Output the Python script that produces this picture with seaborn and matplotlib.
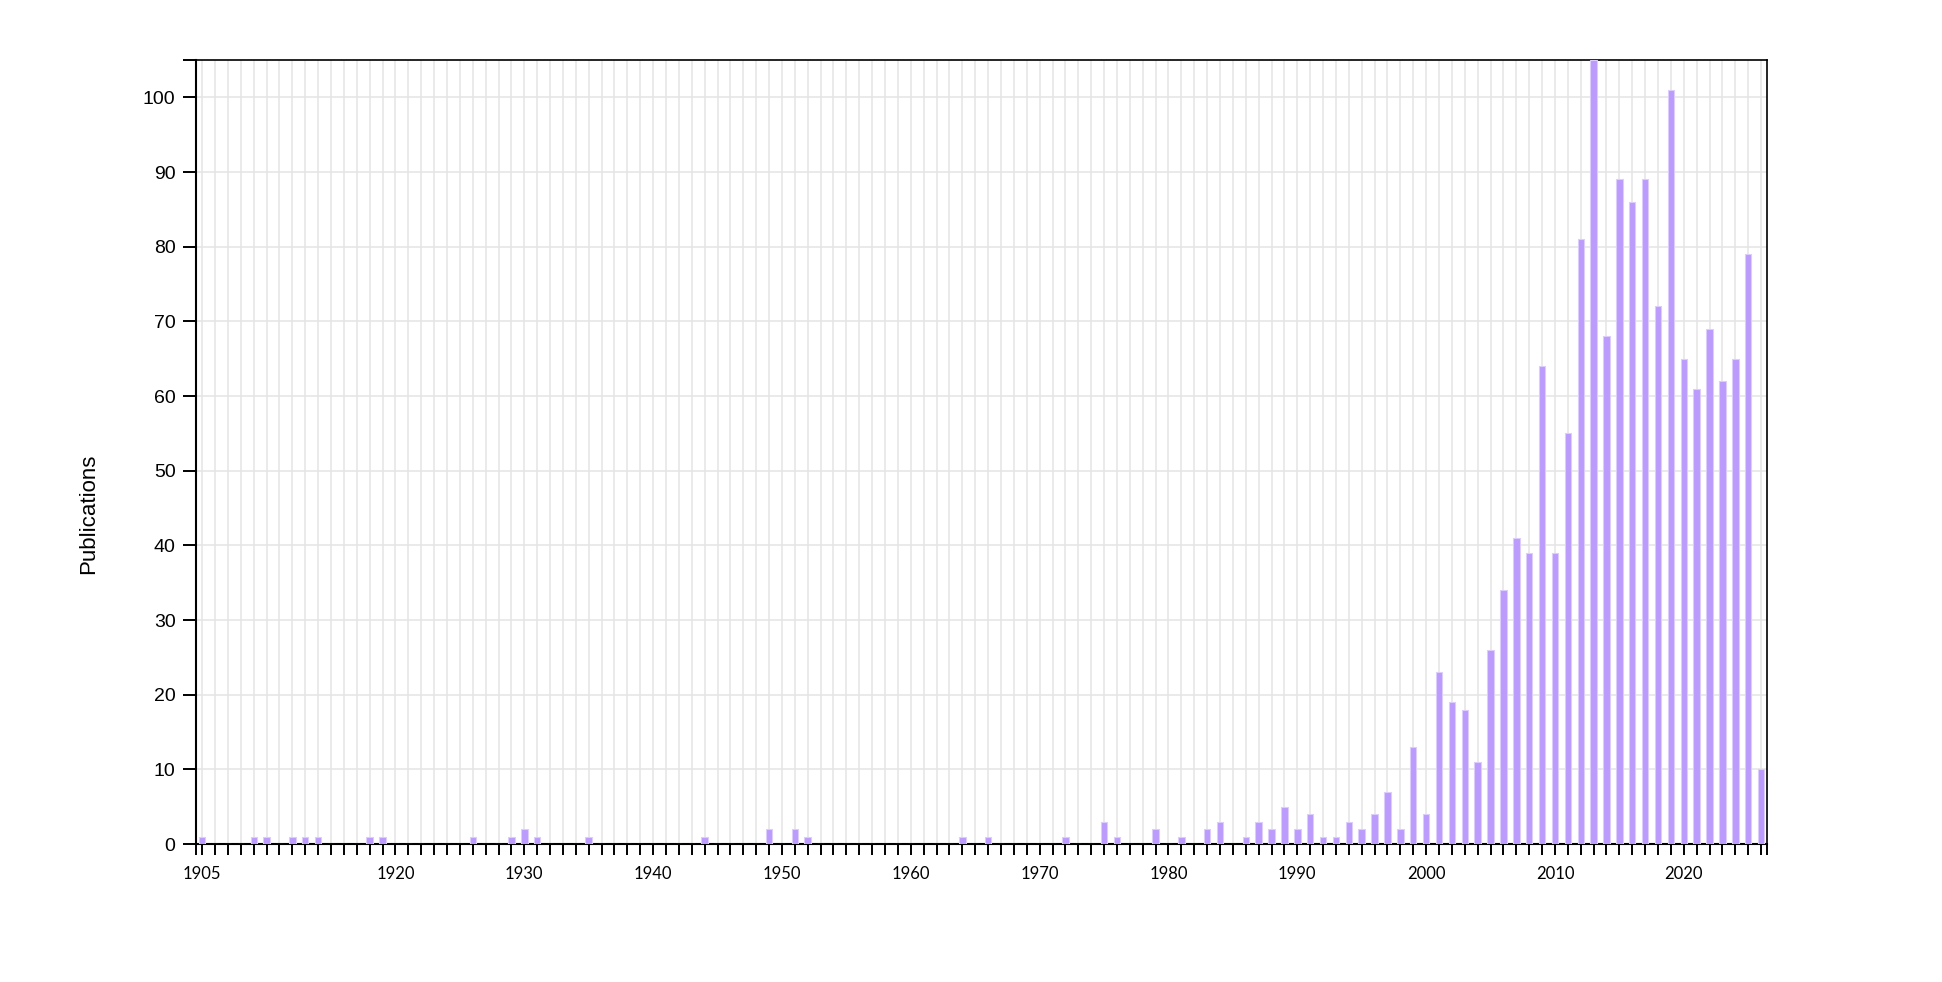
import matplotlib
matplotlib.use("Agg")
import matplotlib.pyplot as plt
import numpy as np
import seaborn as sns

YEARS = list(range(1905, 2027))
PUBLICATIONS = [
    1, 0, 0, 0, 1, 1, 0, 1, 1, 1,          # 1905-1914
    0, 0, 0, 1, 1, 0, 0, 0, 0, 0,          # 1915-1924
    0, 1, 0, 0, 1, 2, 1, 0, 0, 0,          # 1925-1934
    1, 0, 0, 0, 0, 0, 0, 0, 0, 1,          # 1935-1944
    0, 0, 0, 0, 2, 0, 2, 1, 0, 0,          # 1945-1954
    0, 0, 0, 0, 0, 0, 0, 0, 0, 1,          # 1955-1964
    0, 1, 0, 0, 0, 0, 0, 1, 0, 0,          # 1965-1974
    3, 1, 0, 0, 2, 0, 1, 0, 2, 3,          # 1975-1984
    0, 1, 3, 2, 5, 2, 4, 1, 1, 3,          # 1985-1994
    2, 4, 7, 2, 13, 4, 23, 19, 18, 11,     # 1995-2004
    26, 34, 41, 39, 64, 39, 55, 81, 105, 68,  # 2005-2014
    89, 86, 89, 72, 101, 65, 61, 69, 62, 65,  # 2015-2024
    79, 10,                                # 2025-2026
]
LABELED_YEARS = [1905, 1920, 1930, 1940, 1950, 1960, 1970, 1980, 1990, 2000, 2010, 2020]
Y_TICKS = [0, 10, 20, 30, 40, 50, 60, 70, 80, 90, 100]

BAR_COLOR = "#bb9bfb"
GRID_COLOR = "#e4e4e4"

sns.set_theme(style="white")
plt.rcParams['font.family'] = ['Liberation Sans', 'DejaVu Sans']

fig = plt.figure(figsize=(19.42, 9.82), dpi=100)
ax = fig.add_axes([0.1008, 0.1405, 0.8089, 0.7984])

sns.barplot(x=YEARS, y=PUBLICATIONS, color=BAR_COLOR, saturation=1, width=0.5,
            edgecolor="#dccdfd", linewidth=0.8, ax=ax, zorder=3)

n = len(YEARS)
ax.set_xlim(-0.5, n - 1 + 0.43)
ax.set_ylim(0, 105)

# year ticks, labels only on selected years
ax.set_xticks(np.arange(n))
ax.set_xticklabels([str(y) if y in LABELED_YEARS else "" for y in YEARS],
                   family="Lato", fontsize=12)
ax.set_xticks([-0.5, n - 1 + 0.43], minor=True)
ax.set_yticks(Y_TICKS)
ax.set_yticklabels([str(v) for v in Y_TICKS], fontsize=14)
ax.set_yticks([105], minor=True)

ax.tick_params(axis="x", which="both", bottom=True, length=8, width=1.4,
               color="black", pad=8, labelcolor="black")
ax.tick_params(axis="y", which="both", left=True, length=9.5, width=1.4,
               color="black", pad=5, labelcolor="black")

ax.grid(True, which="major", color=GRID_COLOR, linewidth=1.1, zorder=0)
ax.grid(False, which="minor")
ax.set_axisbelow(True)

for side in ["left", "bottom"]:
    ax.spines[side].set_linewidth(1.5)
    ax.spines[side].set_color("black")
for side in ["top", "right"]:
    ax.spines[side].set_linewidth(1.2)
    ax.spines[side].set_color("black")
    ax.spines[side].set_visible(True)

ax.set_xlabel("")
ax.set_ylabel("Publications", fontsize=16, color="black")
ax.yaxis.set_label_coords(-0.0616, 0.421)

fig.savefig("out.png", dpi=100, facecolor="white")
